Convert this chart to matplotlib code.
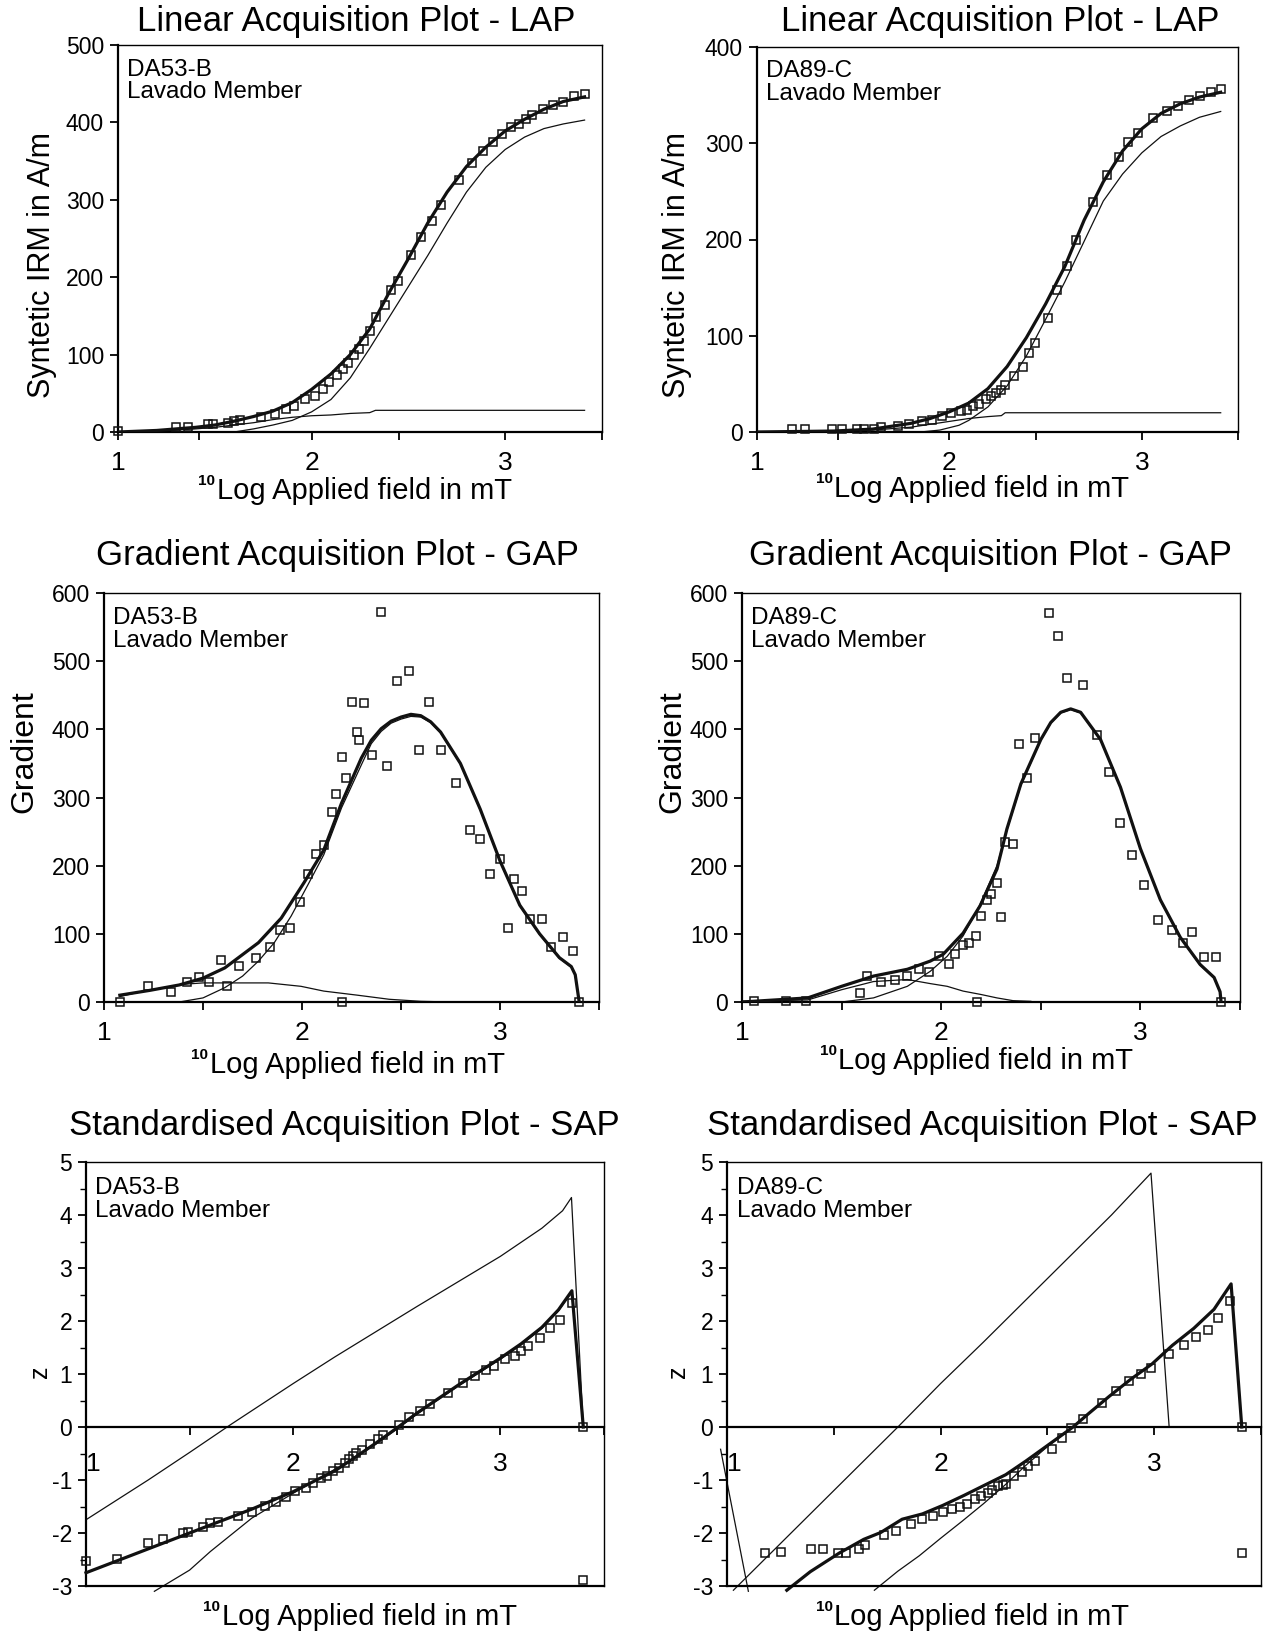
import matplotlib
matplotlib.use('Agg')
import matplotlib.pyplot as plt
from matplotlib.ticker import MultipleLocator, FixedLocator

plt.rcParams['font.family'] = ['Liberation Sans', 'DejaVu Sans']
plt.rcParams['axes.unicode_minus'] = False

# ---------------- LAP, DA53-B ----------------
lap53_x = [1.00, 1.30, 1.36, 1.465, 1.49, 1.57, 1.60, 1.63, 1.74, 1.81, 1.87, 1.91, 1.965, 2.02, 2.06,
           2.09, 2.13, 2.16, 2.19, 2.22, 2.245, 2.27, 2.30, 2.335, 2.38, 2.41, 2.445, 2.515, 2.565, 2.62,
           2.67, 2.76, 2.826, 2.885, 2.937, 2.985, 3.03, 3.07, 3.105, 3.14, 3.196, 3.245, 3.296, 3.355, 3.41]
lap53_y = [1, 6, 6, 10, 10, 12, 14, 16, 20, 23, 30, 33, 42, 47, 56, 64, 73, 81, 89, 99, 107, 118, 130,
           149, 164, 184, 195, 229, 252, 273, 293, 325, 348, 363, 375, 385, 394, 398, 404, 410, 417, 423,
           427, 434, 437]
lap53_fit_x = [1.0, 1.2, 1.4, 1.5, 1.6, 1.7, 1.8, 1.9, 2.0, 2.1, 2.2, 2.3, 2.4, 2.5, 2.6, 2.7, 2.8, 2.9,
               3.0, 3.1, 3.2, 3.3, 3.41]
lap53_fit_y = [0, 2, 6, 9, 14, 20, 27, 38, 55, 75, 100, 133, 180, 224, 270, 310, 343, 368, 389, 404,
               417, 427, 433]
lap53_c1_x = [1.0, 1.6, 1.7, 1.8, 1.9, 2.0, 2.1, 2.2, 2.3, 2.4, 2.5, 2.6, 2.7, 2.8, 2.9, 3.0, 3.1, 3.2,
              3.3, 3.41]
lap53_c1_y = [0, 0, 4, 9, 15, 26, 42, 70, 108, 148, 188, 228, 270, 310, 342, 365, 381, 392, 398, 403]
lap53_c2_x = [1.0, 1.2, 1.4, 1.5, 1.6, 1.7, 1.8, 1.9, 2.0, 2.1, 2.2, 2.3, 2.33, 2.5, 3.41]
lap53_c2_y = [0, 1, 4, 6, 9, 12, 16, 19, 21, 22, 24, 25, 28, 28, 28]

# ---------------- LAP, DA89-C ----------------
lap89_x = [1.18, 1.25, 1.39, 1.44, 1.52, 1.555, 1.61, 1.645, 1.735, 1.79, 1.86, 1.91, 1.96, 2.01, 2.06,
           2.09, 2.125, 2.155, 2.19, 2.215, 2.24, 2.27, 2.29, 2.335, 2.38, 2.415, 2.445, 2.51, 2.56, 2.61,
           2.66, 2.745, 2.82, 2.88, 2.93, 2.98, 3.06, 3.13, 3.19, 3.245, 3.30, 3.36, 3.41]
lap89_y = [3, 3, 3, 3, 3, 3, 3, 5, 6, 8, 11, 12, 17, 20, 22, 23, 27, 29, 34, 37, 41, 44, 49, 58, 68, 82,
           92, 118, 148, 172, 200, 239, 267, 286, 301, 311, 326, 333, 339, 345, 349, 353, 356]
lap89_fit_x = [1.0, 1.4, 1.6, 1.8, 1.9, 2.0, 2.1, 2.2, 2.3, 2.4, 2.5, 2.6, 2.7, 2.8, 2.9, 3.0, 3.1, 3.2,
               3.3, 3.41]
lap89_fit_y = [0, 1, 3, 9, 14, 21, 30, 45, 68, 98, 133, 172, 220, 260, 292, 315, 331, 341, 348, 353]
lap89_c1_x = [1.0, 1.85, 1.95, 2.05, 2.1, 2.2, 2.3, 2.4, 2.5, 2.6, 2.7, 2.8, 2.9, 3.0, 3.1, 3.2, 3.3, 3.41]
lap89_c1_y = [0, 0, 2, 7, 12, 26, 48, 79, 117, 156, 198, 240, 268, 290, 307, 318, 327, 333]
lap89_c2_x = [1.0, 1.6, 1.8, 1.9, 2.0, 2.1, 2.2, 2.27, 2.29, 3.41]
lap89_c2_y = [0, 2, 5, 8, 11, 14, 16, 17, 20, 20]

# ---------------- GAP, DA53-B ----------------
gap53_x = [1.08, 1.22, 1.34, 1.42, 1.48, 1.53, 1.59, 1.62, 1.68, 1.77, 1.84, 1.89, 1.94, 1.99, 2.03,
           2.07, 2.11, 2.15, 2.17, 2.20, 2.20, 2.22, 2.25, 2.28, 2.29, 2.315, 2.355, 2.40, 2.43, 2.48,
           2.54, 2.59, 2.64, 2.70, 2.78, 2.85, 2.90, 2.95, 3.00, 3.04, 3.07, 3.11, 3.15, 3.21, 3.26,
           3.32, 3.37, 3.40]
gap53_y = [0, 24, 14, 29, 37, 29, 61, 23, 53, 65, 81, 106, 108, 147, 188, 217, 231, 278, 305, 359, 0,
           329, 440, 396, 385, 438, 362, 572, 346, 471, 486, 370, 440, 370, 322, 252, 239, 188, 210, 108,
           180, 163, 122, 122, 81, 96, 75, 0]
gap53_fit_x = [1.08, 1.23, 1.38, 1.5, 1.61, 1.78, 1.895, 2.01, 2.11, 2.2, 2.3, 2.35, 2.4, 2.45, 2.5,
               2.55, 2.6, 2.65, 2.7, 2.8, 2.9, 3.0, 3.1, 3.2, 3.3, 3.36, 3.38, 3.40]
gap53_fit_y = [10, 17, 25, 35, 50, 87, 123, 175, 223, 292, 358, 384, 401, 412, 418, 422, 420, 411,
               396, 350, 283, 207, 142, 100, 65, 52, 40, 0]
gap53_c1_x = [1.08, 1.38, 1.5, 1.61, 1.7, 1.78, 1.86, 1.945, 2.03, 2.11, 2.2, 2.3, 2.35, 2.4, 2.45,
              2.5, 2.55, 2.6, 2.65, 2.7, 2.8, 2.9, 3.0, 3.1, 3.2, 3.3, 3.36, 3.38, 3.40]
gap53_c1_y = [0, 0, 6, 21, 38, 60, 87, 126, 172, 216, 285, 348, 379, 397, 409, 415, 419, 418, 410,
              395, 349, 282, 206, 141, 99, 64, 51, 39, 0]
gap53_c2_x = [1.08, 1.2, 1.3, 1.4, 1.5, 1.6, 1.83, 1.995, 2.11, 2.28, 2.44, 2.6, 2.75]
gap53_c2_y = [8, 16, 21, 26, 28, 28, 28, 23, 16, 10, 4, 1, 0]

# ---------------- GAP, DA89-C ----------------
gap89_x = [1.06, 1.22, 1.32, 1.59, 1.63, 1.70, 1.77, 1.83, 1.89, 1.94, 1.99, 2.04, 2.07, 2.11, 2.14,
           2.175, 2.18, 2.20, 2.23, 2.25, 2.28, 2.30, 2.32, 2.36, 2.39, 2.43, 2.47, 2.54, 2.585, 2.63,
           2.71, 2.78, 2.84, 2.90, 2.96, 3.02, 3.09, 3.16, 3.215, 3.26, 3.32, 3.38, 3.405]
gap89_y = [1, 2, 2, 13, 38, 29, 32, 38, 49, 44, 68, 56, 71, 84, 87, 97, 0, 126, 150, 159, 174, 124, 234,
           232, 378, 328, 388, 571, 537, 475, 465, 391, 338, 262, 216, 171, 121, 106, 87, 102, 66, 66, 0]
gap89_fit_x = [1.0, 1.33, 1.5, 1.66, 1.83, 1.945, 2.01, 2.11, 2.195, 2.28, 2.33, 2.4, 2.5, 2.55, 2.6,
               2.65, 2.7, 2.8, 2.9, 3.0, 3.1, 3.2, 3.3, 3.37, 3.40, 3.405]
gap89_fit_y = [0, 6, 23, 38, 48, 60, 70, 101, 141, 195, 254, 320, 385, 410, 425, 430, 425, 385, 315,
               225, 150, 95, 55, 36, 15, 0]
gap89_c1_x = [1.5, 1.66, 1.83, 1.945, 2.03, 2.11, 2.195, 2.28, 2.33, 2.4, 2.5, 2.55, 2.6, 2.65, 2.7,
              2.8, 2.9, 3.0, 3.1, 3.2, 3.3, 3.37, 3.40, 3.405]
gap89_c1_y = [0, 6, 23, 45, 67, 97, 143, 200, 252, 318, 384, 409, 424, 429, 424, 384, 314, 224, 149,
              94, 54, 35, 14, 0]
gap89_c2_x = [1.0, 1.33, 1.5, 1.66, 1.83, 1.945, 2.03, 2.11, 2.2, 2.28, 2.36, 2.45]
gap89_c2_y = [1, 3, 18, 30, 33, 27, 23, 16, 11, 6, 2, 1]

# ---------------- SAP, DA53-B ----------------
sap53_x = [1.0, 1.15, 1.30, 1.37, 1.47, 1.49, 1.565, 1.60, 1.635, 1.735, 1.80, 1.866, 1.915, 1.965,
           2.01, 2.06, 2.095, 2.135, 2.165, 2.19, 2.22, 2.25, 2.27, 2.29, 2.305, 2.33, 2.37, 2.41, 2.435,
           2.51, 2.56, 2.61, 2.66, 2.745, 2.82, 2.875, 2.93, 2.97, 3.02, 3.07, 3.10, 3.135, 3.19, 3.24,
           3.29, 3.345, 3.40, 3.40]
sap53_y = [-2.53, -2.49, -2.18, -2.12, -2.0, -1.98, -1.89, -1.82, -1.80, -1.68, -1.60, -1.49, -1.41,
           -1.32, -1.20, -1.16, -1.05, -0.96, -0.92, -0.83, -0.77, -0.68, -0.61, -0.54, -0.49, -0.43,
           -0.32, -0.22, -0.16, 0.04, 0.19, 0.31, 0.44, 0.64, 0.83, 0.96, 1.07, 1.15, 1.28, 1.34, 1.44,
           1.52, 1.68, 1.86, 2.02, 2.34, 0.0, -2.88]
sap53_fit_x = [1.0, 1.2, 1.4, 1.6, 1.8, 2.0, 2.2, 2.3, 2.4, 2.5, 2.6, 2.8, 3.0, 3.1, 3.2, 3.28, 3.345, 3.40]
sap53_fit_y = [-2.75, -2.45, -2.15, -1.85, -1.55, -1.22, -0.83, -0.57, -0.3, -0.02, 0.27, 0.8, 1.3,
               1.57, 1.88, 2.21, 2.57, 0.0]
sap53_c1_x = [1.33, 1.5, 1.6, 1.8, 2.0, 2.2, 2.3, 2.4, 2.5, 2.6, 2.8, 3.0, 3.1, 3.2, 3.28, 3.345, 3.40]
sap53_c1_y = [-3.1, -2.7, -2.35, -1.72, -1.25, -0.8, -0.57, -0.32, -0.04, 0.25, 0.78, 1.28, 1.55, 1.86,
              2.19, 2.55, 0.0]
sap53_c2_x = [1.0, 1.3, 1.5, 1.7, 2.0, 2.2, 2.4, 2.6, 2.8, 3.0, 3.2, 3.3, 3.343, 3.40]
sap53_c2_y = [-1.75, -1.0, -0.48, 0.05, 0.82, 1.32, 1.8, 2.28, 2.75, 3.22, 3.75, 4.08, 4.33, 0.0]

# ---------------- SAP, DA89-C ----------------
sap89_x = [1.18, 1.255, 1.395, 1.45, 1.52, 1.555, 1.62, 1.645, 1.735, 1.79, 1.86, 1.915, 1.965, 2.01,
           2.055, 2.09, 2.125, 2.16, 2.19, 2.22, 2.24, 2.27, 2.29, 2.305, 2.345, 2.38, 2.41, 2.44, 2.52,
           2.57, 2.61, 2.665, 2.755, 2.82, 2.88, 2.94, 2.985, 3.07, 3.14, 3.195, 3.25, 3.30, 3.355,
           3.41, 3.41]
sap89_y = [-2.38, -2.35, -2.31, -2.31, -2.38, -2.38, -2.31, -2.22, -2.04, -1.96, -1.83, -1.74, -1.68,
           -1.61, -1.54, -1.50, -1.45, -1.36, -1.31, -1.25, -1.18, -1.12, -1.09, -1.07, -0.93, -0.84,
           -0.74, -0.64, -0.42, -0.21, -0.02, 0.16, 0.46, 0.67, 0.86, 1.0, 1.12, 1.38, 1.54, 1.69, 1.83,
           2.06, 2.37, 0.0, -2.38]
sap89_fit_x = [1.28, 1.39, 1.525, 1.64, 1.72, 1.82, 1.915, 2.01, 2.11, 2.21, 2.305, 2.40, 2.50, 2.62,
               2.695, 2.79, 2.89, 2.99, 3.085, 3.185, 3.28, 3.36, 3.41]
sap89_fit_y = [-3.08, -2.73, -2.38, -2.12, -1.99, -1.74, -1.64, -1.48, -1.29, -1.09, -0.90, -0.64,
               -0.35, 0.0, 0.26, 0.58, 0.90, 1.19, 1.54, 1.86, 2.22, 2.70, 0.0]
sap89_c1_x = [1.69, 1.8, 1.9, 2.0, 2.1, 2.2, 2.3, 2.4, 2.5, 2.62, 2.695, 2.79, 2.89, 2.99, 3.085, 3.185,
              3.28, 3.36, 3.41]
sap89_c1_y = [-3.08, -2.72, -2.43, -2.1, -1.78, -1.45, -1.1, -0.72, -0.37, 0.0, 0.26, 0.58, 0.9, 1.19,
              1.54, 1.86, 2.22, 2.7, 0.0]
sap89_c2_x = [1.03, 1.2, 1.4, 1.6, 1.8, 2.0, 2.2, 2.4, 2.6, 2.8, 2.985, 3.07]
sap89_c2_y = [-3.08, -2.4, -1.6, -0.8, 0.0, 0.82, 1.6, 2.4, 3.2, 4.0, 4.79, 0.0]
sap89_c3_x = [0.97, 1.10]
sap89_c3_y = [-0.42, -3.1]

W, H = 1270, 1634
fig = plt.figure(figsize=(W / 100, H / 100), dpi=100)


def add_ax(l, r, t, b):
    return fig.add_axes([l / W, 1 - b / H, (r - l) / W, (b - t) / H])


def style(ax):
    for s in ['left', 'bottom']:
        ax.spines[s].set_linewidth(1.6)
    for s in ['top', 'right']:
        ax.spines[s].set_linewidth(1.0)
    ax.tick_params(direction='out', length=6, width=1.3, labelsize=16.5, pad=4)
    ax.tick_params(axis='x', labelsize=19, pad=8)
    ax.tick_params(which='minor', direction='out', length=4, width=1.0)
    ax.set_xlim(1, 3.5)


def draw(ax, sx, sy, fx, fy, comps, clip=True):
    for cx, cy in comps:
        ax.plot(cx, cy, color='#111111', lw=0.9, clip_on=clip, zorder=2)
    ax.plot(fx, fy, color='#111111', lw=2.3, clip_on=clip, zorder=3)
    ax.plot(sx, sy, ls='none', marker='s', ms=6, mfc='none', mec='#111111', mew=1.1,
            clip_on=False, zorder=4)


def label_block(ax, name):
    ax.text(0.018, 0.965, name + '\nLavado Member', transform=ax.transAxes, ha='left', va='top',
            fontsize=17.5, linespacing=1.05)


# titles and axis labels placed in figure pixels
def ftext(x, y, s, size, rot=0):
    return fig.text(x / W, 1 - y / H, s, ha='center', va='center', fontsize=size, rotation=rot)


def xlabel(x, y):
    t = ftext(x + 8, y, 'Log Applied field in mT', 21)
    # small bold "10" in front of "Log"
    fig.axes[0].annotate('10', xy=(0, 1), xycoords=t, xytext=(-1, 2), textcoords='offset points',
                         ha='right', va='top', fontsize=11, fontweight='bold', annotation_clip=False)


# LAP panels
ax1 = add_ax(118, 602, 45, 432)
draw(ax1, lap53_x, lap53_y, lap53_fit_x, lap53_fit_y,
     [(lap53_c1_x, lap53_c1_y), (lap53_c2_x, lap53_c2_y)])
ax1.set_ylim(0, 500)
ax2 = add_ax(757, 1238, 47, 432)
draw(ax2, lap89_x, lap89_y, lap89_fit_x, lap89_fit_y,
     [(lap89_c1_x, lap89_c1_y), (lap89_c2_x, lap89_c2_y)])
ax2.set_ylim(0, 400)
for ax, name in [(ax1, 'DA53-B'), (ax2, 'DA89-C')]:
    style(ax)
    ax.xaxis.set_major_locator(FixedLocator([1, 1.42, 2, 2.45, 3, 3.5]))
    ax.set_xticklabels(['1', '', '2', '', '3', ''])
    ax.yaxis.set_major_locator(MultipleLocator(100))
    label_block(ax, name)

# GAP panels
ax3 = add_ax(104, 599, 593, 1002)
draw(ax3, gap53_x, gap53_y, gap53_fit_x, gap53_fit_y,
     [(gap53_c1_x, gap53_c1_y), (gap53_c2_x, gap53_c2_y)])
ax4 = add_ax(742, 1240, 593, 1002)
draw(ax4, gap89_x, gap89_y, gap89_fit_x, gap89_fit_y,
     [(gap89_c1_x, gap89_c1_y), (gap89_c2_x, gap89_c2_y)])
for ax, name in [(ax3, 'DA53-B'), (ax4, 'DA89-C')]:
    style(ax)
    ax.set_ylim(0, 600)
    ax.xaxis.set_major_locator(FixedLocator([1, 1.5, 2, 2.5, 3, 3.5]))
    ax.set_xticklabels(['1', '', '2', '', '3', ''])
    ax.yaxis.set_major_locator(MultipleLocator(100))
    label_block(ax, name)

# SAP panels, x axis crosses at z = 0
ax5 = add_ax(86, 604, 1162, 1586)
draw(ax5, sap53_x, sap53_y, sap53_fit_x, sap53_fit_y,
     [(sap53_c1_x, sap53_c1_y), (sap53_c2_x, sap53_c2_y)], clip=False)
ax6 = add_ax(727, 1261, 1162, 1586)
draw(ax6, sap89_x, sap89_y, sap89_fit_x, sap89_fit_y,
     [(sap89_c1_x, sap89_c1_y), (sap89_c2_x, sap89_c2_y), (sap89_c3_x, sap89_c3_y)], clip=False)
for ax, name in [(ax5, 'DA53-B'), (ax6, 'DA89-C')]:
    style(ax)
    ax.set_ylim(-3, 5)
    ax.spines['bottom'].set_position(('data', 0))
    ax.axhline(-3, color='k', lw=1.6, clip_on=False, zorder=5)
    ax.xaxis.set_major_locator(FixedLocator([1, 1.5, 2, 2.5, 3, 3.5]))
    ax.set_xticklabels(['1', '', '2', '', '3', ''])
    ax.get_xticklabels()[0].set_ha('left')
    ax.tick_params(axis='x', pad=12)
    ax.yaxis.set_major_locator(MultipleLocator(1))
    ax.yaxis.set_minor_locator(MultipleLocator(0.5))
    label_block(ax, name)

ftext(356, 21, 'Linear Acquisition Plot - LAP', 25)
ftext(1000, 21, 'Linear Acquisition Plot - LAP', 25)
ftext(337, 556, 'Gradient Acquisition Plot - GAP', 25)
ftext(990, 556, 'Gradient Acquisition Plot - GAP', 25)
ftext(344, 1125, 'Standardised Acquisition Plot - SAP', 25)
ftext(982, 1125, 'Standardised Acquisition Plot - SAP', 25)

xlabel(356, 491)
xlabel(974, 489)
xlabel(349, 1065)
xlabel(978, 1061)
xlabel(361, 1617)
xlabel(974, 1617)

ftext(42, 265, 'Syntetic IRM in A/m', 22, 90)
ftext(677, 265, 'Syntetic IRM in A/m', 22, 90)
ftext(24, 752, 'Gradient', 23, 90)
ftext(672, 752, 'Gradient', 23, 90)
ftext(40, 1372, 'z', 18, 90)
ftext(678, 1372, 'z', 18, 90)

fig.savefig('out.png', dpi=100, facecolor='white')
